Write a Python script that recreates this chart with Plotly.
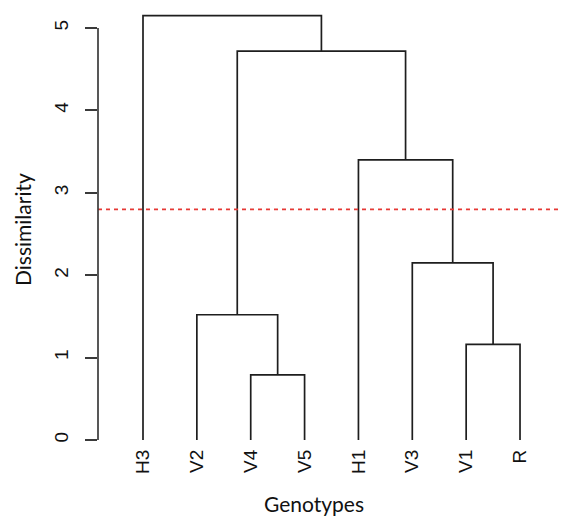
import plotly.graph_objects as go

# Leaves in dendrogram order
leaves = ["H3", "V2", "V4", "V5", "H1", "V3", "V1", "R"]
# hclust-style merge table: negative = leaf (1-based position in leaves), positive = earlier merge step
merge_left = [-3, -7, -2, -6, -5, 3, -1]
merge_right = [-4, -8, 1, 2, 4, 5, 6]
merge_height = [0.79, 1.16, 1.52, 2.15, 3.40, 4.72, 5.15]
cut_height = 2.8
y_ticks = [0, 1, 2, 3, 4, 5]

# Build dendrogram segments
node_x, node_h = {}, {}
xs, ys = [], []

def pos(ref):
    if ref < 0:
        return float(-ref), 0.0
    return node_x[ref], node_h[ref]

for i, (a, b, h) in enumerate(zip(merge_left, merge_right, merge_height), start=1):
    xa, ha = pos(a)
    xb, hb = pos(b)
    xs += [xa, xa, xb, xb, None]
    ys += [ha, h, h, hb, None]
    node_x[i] = (xa + xb) / 2
    node_h[i] = h

OFF = 8  # page body margin offset
W, H = 566, 516
L = 98 - OFF
T = 12 - OFF
B = H - (440 - OFF)
R_ = OFF
px_per_leaf = 53.86
x_lo = 1 - (143 - 98) / px_per_leaf
x_hi = 1 + (W - 143) / px_per_leaf
px_per_unit = 82.4
y_hi = (440 - 12) / px_per_unit
pw = W - L - R_
ph = H - T - B

def px_x(sx):
    return (sx - OFF - L) / pw

def px_y(sy):
    return (H - B - (sy - OFF)) / ph

fig = go.Figure()
fig.add_trace(go.Scatter(x=xs, y=ys, mode="lines",
                         line=dict(color="#1e1e1e", width=1.7),
                         hoverinfo="skip", showlegend=False))

fig.add_shape(type="line", xref="paper", x0=0, x1=px_x(W + 4), yref="y", y0=cut_height, y1=cut_height,
              line=dict(color="#e53935", width=1.8, dash="4px,4px"))
# y axis line spanning the tick range only (R style)
fig.add_shape(type="line", xref="paper", x0=0, x1=0, yref="y", y0=y_ticks[0], y1=y_ticks[-1],
              line=dict(color="#3a3a3a", width=1.7))

fig.update_layout(
    width=W, height=H,
    margin=dict(l=L, r=R_, t=T, b=B),
    plot_bgcolor="white", paper_bgcolor="white",
    font=dict(family="Liberation Sans, Arial", color="#111"),
    xaxis=dict(range=[x_lo, x_hi], tickmode="array",
               tickvals=list(range(1, len(leaves) + 1)), ticktext=leaves,
               tickangle=-90, ticks="", showgrid=False, zeroline=False, showline=False,
               tickfont=dict(size=19, color="#111"), ticklabelstandoff=5),
    yaxis=dict(range=[0, y_hi], tickmode="array", tickvals=y_ticks,
               ticks="outside", ticklen=12, tickwidth=1.7, tickcolor="#3a3a3a",
               tickangle=-90, showgrid=False, zeroline=False, showline=False,
               tickfont=dict(size=19, color="#111"), ticklabelstandoff=9),
    annotations=[
        dict(text="Genotypes", xref="paper", yref="paper",
             x=px_x(314), y=px_y(503),
             showarrow=False, font=dict(family="Lato, Liberation Sans", size=21, color="#111"),
             xanchor="center", yanchor="middle"),
        dict(text="Dissimilarity", xref="paper", yref="paper",
             x=px_x(22), y=px_y(230),
             showarrow=False, textangle=-90,
             font=dict(family="Lato, Liberation Sans", size=21, color="#111"),
             xanchor="center", yanchor="middle"),
    ],
)

fig.write_html("out.html")
